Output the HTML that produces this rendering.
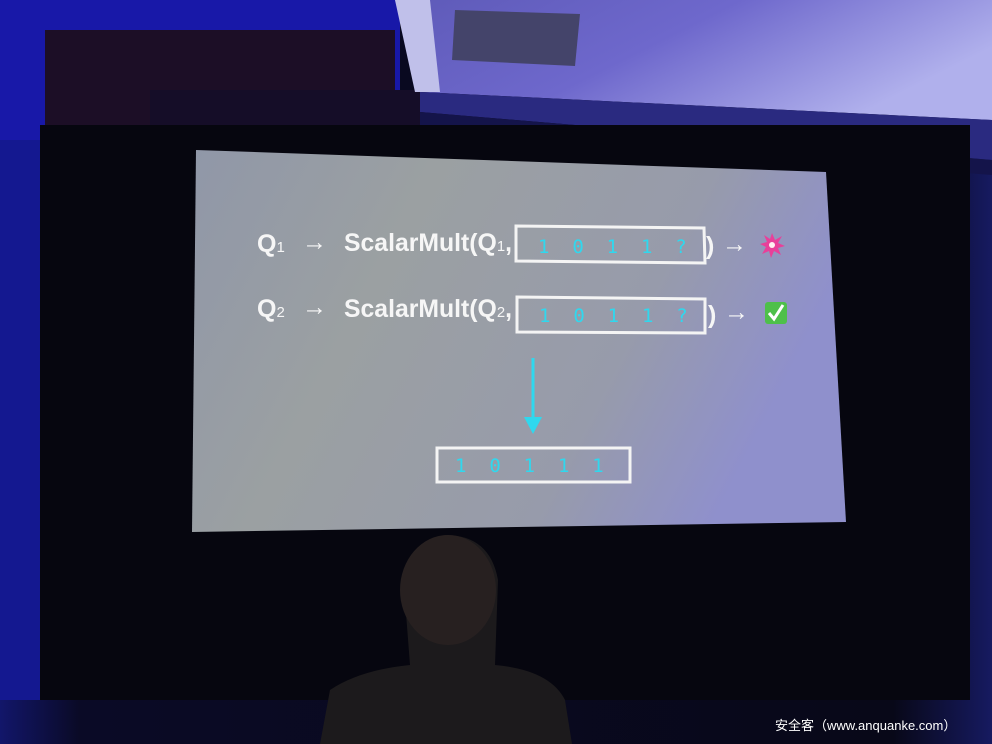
<!DOCTYPE html>
<html><head><meta charset="utf-8"><style>
html,body{margin:0;padding:0;background:#0a0a1e;}
svg{display:block}
</style></head><body>
<svg width="992" height="744" viewBox="0 0 992 744" xmlns="http://www.w3.org/2000/svg">
<defs>
<linearGradient id="scr" x1="0" y1="0" x2="1" y2="0.3">
<stop offset="0" stop-color="#9097a8"/>
<stop offset="0.35" stop-color="#9ba0a2"/>
<stop offset="0.75" stop-color="#979bab"/>
<stop offset="1" stop-color="#8f90cc"/>
</linearGradient>
<linearGradient id="ceil" x1="0" y1="0" x2="1" y2="0.4">
<stop offset="0" stop-color="#5e5ab8"/>
<stop offset="0.5" stop-color="#6e68cc"/>
<stop offset="1" stop-color="#b0b0ec"/>
</linearGradient>
<linearGradient id="room" x1="0" y1="0" x2="1" y2="0">
<stop offset="0" stop-color="#12166a"/>
<stop offset="0.08" stop-color="#0a0a26"/>
<stop offset="0.9" stop-color="#080818"/>
<stop offset="1" stop-color="#161a60"/>
</linearGradient>
</defs>
<rect width="992" height="744" fill="url(#room)"/>
<rect x="0" y="0" width="400" height="140" fill="#1818a8"/>
<rect x="0" y="140" width="40" height="560" fill="#141890"/>
<polygon points="45,30 395,30 395,135 45,135" fill="#1c0e26"/>
<polygon points="150,90 480,90 480,150 150,150" fill="#150d28"/>
<polygon points="395,0 992,0 992,120 420,92" fill="url(#ceil)"/>
<polygon points="395,0 430,0 440,92 415,92" fill="#c0c0ea"/>
<polygon points="455,10 580,14 575,66 452,60" fill="#44446a"/>
<polygon points="420,92 992,120 992,160 420,112" fill="#2a2a80"/>
<polygon points="420,112 992,160 992,175 420,130" fill="#14144a"/>
<rect x="40" y="125" width="930" height="575" fill="#06060f"/>
<polygon points="196,150 826,172 846,522 192,532" fill="url(#scr)"/>
<g font-family="'Liberation Sans',sans-serif" fill="#f6f6f6" font-size="25" font-weight="bold">
<text x="257" y="252">Q<tspan font-size="15" font-weight="normal">1</tspan></text>
<text x="302" y="250">→</text>
<text x="344" y="251" textLength="168" lengthAdjust="spacingAndGlyphs">ScalarMult(Q<tspan font-size="15" font-weight="normal">1</tspan>,</text>
<text x="706" y="254">)</text>
<text x="722" y="252">→</text>
<text x="257" y="317">Q<tspan font-size="15" font-weight="normal">2</tspan></text>
<text x="302" y="315">→</text>
<text x="344" y="317" textLength="168" lengthAdjust="spacingAndGlyphs">ScalarMult(Q<tspan font-size="15" font-weight="normal">2</tspan>,</text>
<text x="708" y="323">)</text>
<text x="724" y="320">→</text>
</g>
<g fill="none" stroke="#f4f4f4" stroke-width="3">
<polygon points="516,226 704,228 705,263 516,261"/>
<polygon points="517,297 705,299 705,333 517,332"/>
<rect x="437" y="448" width="193" height="34"/>
</g>
<g font-family="'DejaVu Sans Mono',monospace" fill="#2fd8ee" font-size="19">
<text x="538" y="253" xml:space="preserve">1  0  1  1  ?</text>
<text x="539" y="322" xml:space="preserve">1  0  1  1  ?</text>
<text x="455" y="472" xml:space="preserve">1  0  1  1  1</text>
</g>
<line x1="533" y1="358" x2="533" y2="420" stroke="#2fd8ee" stroke-width="3"/>
<polygon points="524,417 542,417 533,434" fill="#2fd8ee"/>
<polygon points="772,233 775,240 782,236 778,243 785,246 778,248 781,255 774,251 771,258 769,251 762,254 766,247 760,244 767,242 764,235 770,239" fill="#e8409a"/>
<circle cx="772" cy="245" r="3" fill="#fff0f0"/>
<rect x="765" y="302" width="22" height="22" rx="3" fill="#4ec04a"/>
<polyline points="769,313 774,319 783,305" fill="none" stroke="#fff" stroke-width="3"/>
<path d="M320,744 L330,690 Q360,670 410,665 L405,600 Q400,545 445,535 Q490,535 498,580 L495,665 Q550,670 565,700 L572,744 Z" fill="#1c1a1c"/>
<ellipse cx="448" cy="590" rx="48" ry="55" fill="#272020"/>
<text x="775" y="730" font-family="'Liberation Sans','Noto Sans CJK SC',sans-serif" font-size="13" fill="#ffffff">安全客（www.anquanke.com）</text>
</svg>
</body></html>
